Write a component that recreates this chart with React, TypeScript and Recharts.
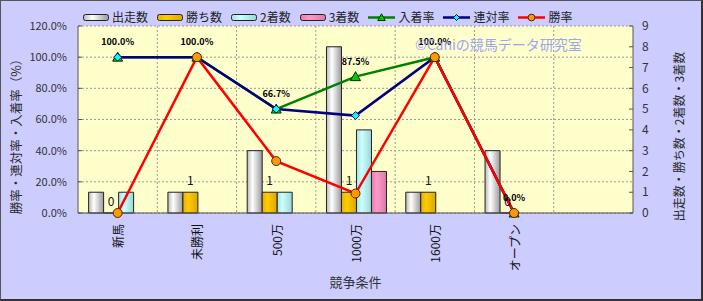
import React from "react";
import {
  Bar,
  CartesianGrid,
  ComposedChart,
  LabelList,
  Legend,
  Line,
  XAxis,
  YAxis,
} from "recharts";

const categories = ["新馬", "未勝利", "500万", "1000万", "1600万", "オープン", ""];
const starts = [1, 1, 3, 8, 1, 3, null];
const wins = [0, 1, 1, 1, 1, 0, null];
const seconds = [1, 0, 1, 4, 0, 0, null];
const thirds = [0, 0, 0, 2, 0, 0, null];
const placeRate = [100, 100, 66.7, 87.5, 100, 0, null];
const rentaiRate = [100, 100, 66.7, 62.5, 100, 0, null];
const winRate = [0, 100, 33.3, 12.5, 100, 0, null];
const leftTicks = [0, 20, 40, 60, 80, 100, 120];
const rightTicks = [0, 1, 2, 3, 4, 5, 6, 7, 8, 9];

const data = categories.map((name, i) => ({
  name,
  starts: starts[i],
  wins: wins[i],
  seconds: seconds[i],
  thirds: thirds[i],
  placeRate: placeRate[i],
  rentaiRate: rentaiRate[i],
  winRate: winRate[i],
}));

const FONT = '"Noto Sans CJK JP", "Noto Sans", sans-serif';

// 凡例の並び
const legendItems = [
  { label: "出走数", kind: "bar", fill: "url(#gStarts)" },
  { label: "勝ち数", kind: "bar", fill: "url(#gWins)" },
  { label: "2着数", kind: "bar", fill: "url(#gSeconds)" },
  { label: "3着数", kind: "bar", fill: "url(#gThirds)" },
  { label: "入着率", kind: "line", color: "#008000", marker: "triangle" },
  { label: "連対率", kind: "line", color: "#000080", marker: "diamond" },
  { label: "勝率", kind: "line", color: "#ff0000", marker: "circle" },
];

function marker(kind: string, cx: number, cy: number, small = false) {
  const s = small ? 0.75 : 1;
  if (kind === "triangle") {
    return (
      <polygon
        points={`${cx},${cy - 5 * s} ${cx - 5 * s},${cy + 4 * s} ${cx + 5 * s},${cy + 4 * s}`}
        fill="#00cc00"
        stroke="#003300"
        strokeWidth={1}
      />
    );
  }
  if (kind === "diamond") {
    return (
      <polygon
        points={`${cx},${cy - 4 * s} ${cx + 4 * s},${cy} ${cx},${cy + 4 * s} ${cx - 4 * s},${cy}`}
        fill="#00ffff"
        stroke="#000060"
        strokeWidth={1}
      />
    );
  }
  return <circle cx={cx} cy={cy} r={4.5 * s} fill="#ff9900" stroke="#552200" strokeWidth={1} />;
}

const dotOf = (kind: string) => (p: any) => {
  if (p.cx == null || p.cy == null || p.value == null) return <g key={p.index} />;
  return <g key={p.index}>{marker(kind, p.cx, p.cy)}</g>;
};

function LegendRow() {
  return (
    <div style={{ display: "flex", alignItems: "center", height: 14, fontFamily: FONT, fontSize: 12, color: "#222", whiteSpace: "nowrap" }}>
      {legendItems.map((it) => (
        <div key={it.label} style={{ display: "flex", alignItems: "center", marginRight: 9 }}>
          {it.kind === "bar" ? (
            <svg width={26} height={9} style={{ marginRight: 3 }}>
              <rect x={0.5} y={1.5} width={25} height={6} rx={2} fill={it.fill} stroke="#222" />
            </svg>
          ) : (
            <svg width={27} height={11} style={{ marginRight: 3 }}>
              <line x1={0} y1={5.5} x2={27} y2={5.5} stroke={it.color} strokeWidth={2.5} />
              {marker(it.marker as string, 13.5, 5.5, true)}
            </svg>
          )}
          <span style={{ lineHeight: "14px" }}>{it.label}</span>
        </div>
      ))}
    </div>
  );
}

const CategoryTick = (p: any) => {
  const { x, y, payload } = p;
  return (
    <text
      x={x}
      y={y}
      transform={`rotate(-90 ${x} ${y})`}
      textAnchor="end"
      dominantBaseline="central"
      fontSize={12}
      fill="#111"
    >
      {payload.value}
    </text>
  );
};

const verticalTitle = (text: string, dx: number, dy: number, size: number) => (p: any) => {
  const vb = p.viewBox;
  const x = vb.x + dx;
  const y = vb.y + vb.height / 2 + dy;
  return (
    <text
      x={x}
      y={y}
      transform={`rotate(-90 ${x} ${y})`}
      textAnchor="middle"
      dominantBaseline="central"
      fontSize={size}
      fill="#2a2a2a"
    >
      {text}
    </text>
  );
};

// 勝ち数ラベル：0 のときも表示する
const WinsLabel = (p: any) => {
  const vb = p.viewBox ?? p;
  if (p.value == null || vb == null || vb.x == null) return null;
  const x = vb.x + (vb.width ?? 0) / 2;
  const y = Math.min(vb.y, vb.y + (vb.height ?? 0)) - 7;
  return (
    <text x={x} y={y} textAnchor="middle" fontSize={12} fill="#111">
      {String(p.value)}
    </text>
  );
};

const gridX = ({ offset }: any) =>
  categories.slice(1).map((_, i) => offset.left + (offset.width * (i + 1)) / categories.length);

export default function App() {
  return (
    <div style={{ position: "absolute", left: 0, top: 0, width: 703, height: 301, background: "#ccccff", fontFamily: FONT }}>
      <ComposedChart
        width={703}
        height={301}
        data={data}
        margin={{ top: 26, right: 0, bottom: 28, left: 0 }}
        barCategoryGap="13.4%"
        barGap={0}
      >
        <defs>
          <linearGradient id="gStarts" x1="0" y1="0" x2="1" y2="0">
            <stop offset="0%" stopColor="#b8b8b8" />
            <stop offset="35%" stopColor="#ffffff" />
            <stop offset="100%" stopColor="#9a9a9a" />
          </linearGradient>
          <linearGradient id="gWins" x1="0" y1="0" x2="1" y2="0">
            <stop offset="0%" stopColor="#e6b000" />
            <stop offset="35%" stopColor="#ffcc00" />
            <stop offset="100%" stopColor="#d9a800" />
          </linearGradient>
          <linearGradient id="gSeconds" x1="0" y1="0" x2="1" y2="0">
            <stop offset="0%" stopColor="#a8e0e0" />
            <stop offset="35%" stopColor="#ccffff" />
            <stop offset="100%" stopColor="#99d6d6" />
          </linearGradient>
          <linearGradient id="gThirds" x1="0" y1="0" x2="1" y2="0">
            <stop offset="0%" stopColor="#e07aa8" />
            <stop offset="35%" stopColor="#ff99cc" />
            <stop offset="100%" stopColor="#d97aa6" />
          </linearGradient>
        </defs>
        <CartesianGrid
          yAxisId="left"
          fill="#ffffcc"
          stroke="#9a9a9a"
          strokeDasharray="2 2"
          verticalCoordinatesGenerator={gridX}
        />
        <XAxis
          dataKey="name"
          interval={0}
          height={60}
          tick={<CategoryTick />}
          tickLine={false}
          tickSize={6}
          tickMargin={5}
          axisLine={{ stroke: "#555" }}
          label={{ value: "競争条件", position: "bottom", offset: 5, fontSize: 13, fill: "#333" }}
        />
        <YAxis
          yAxisId="left"
          width={78}
          domain={[0, 120]}
          ticks={leftTicks}
          interval={0}
          tickFormatter={(v: number) => `${v.toFixed(1)}%`}
          tick={{ fill: "#333", fontSize: 11 }}
          tickSize={-4}
          tickMargin={15}
          tickLine={{ stroke: "#555" }}
          axisLine={{ stroke: "#555" }}
          label={{ content: verticalTitle("勝率・連対率・入着率（%）", 15, 14, 12.5) }}
        />
        <YAxis
          yAxisId="right"
          orientation="right"
          width={70}
          domain={[0, 9]}
          ticks={rightTicks}
          interval={0}
          tick={{ fill: "#333", fontSize: 12 }}
          tickSize={-4}
          tickMargin={13}
          tickLine={{ stroke: "#555" }}
          axisLine={{ stroke: "#555" }}
          label={{ content: verticalTitle("出走数・勝ち数・2着数・3着数", 45, 17, 12) }}
        />
        <Legend
          verticalAlign="middle"
          align="center"
          layout="horizontal"
          wrapperStyle={{ left: 83, top: 10, width: "auto", height: 14 }}
          content={() => <LegendRow />}
        />
        <Bar yAxisId="right" dataKey="starts" name="出走数" fill="url(#gStarts)" stroke="#222" isAnimationActive={false} />
        <Bar
          yAxisId="right"
          dataKey="wins"
          name="勝ち数"
          fill="url(#gWins)"
          stroke="#222"
          minPointSize={(v: any) => (v === 0 ? 0.01 : 0)}
          isAnimationActive={false}
        >
          <LabelList dataKey="wins" content={WinsLabel} />
        </Bar>
        <Bar yAxisId="right" dataKey="seconds" name="2着数" fill="url(#gSeconds)" stroke="#222" isAnimationActive={false} />
        <Bar yAxisId="right" dataKey="thirds" name="3着数" fill="url(#gThirds)" stroke="#222" isAnimationActive={false} />
        <Line
          yAxisId="left"
          type="linear"
          dataKey="placeRate"
          name="入着率"
          stroke="#008000"
          strokeWidth={2.5}
          dot={dotOf("triangle")}
          activeDot={false}
          isAnimationActive={false}
        >
          <LabelList
            dataKey="placeRate"
            position="top"
            offset={12}
            fontSize={9}
            fontWeight="bold"
            fill="#000"
            formatter={(v: any) => (v == null ? "" : `${Number(v).toFixed(1)}%`)}
          />
        </Line>
        <Line
          yAxisId="left"
          type="linear"
          dataKey="rentaiRate"
          name="連対率"
          stroke="#000080"
          strokeWidth={2.5}
          dot={dotOf("diamond")}
          activeDot={false}
          isAnimationActive={false}
        />
        <Line
          yAxisId="left"
          type="linear"
          dataKey="winRate"
          name="勝率"
          stroke="#ff0000"
          strokeWidth={2.5}
          dot={dotOf("circle")}
          activeDot={false}
          isAnimationActive={false}
        />
      </ComposedChart>
      <div
        style={{
          position: "absolute",
          left: 415,
          top: 35,
          fontSize: 14,
          lineHeight: "18px",
          color: "#9ea4f4",
          whiteSpace: "nowrap",
          pointerEvents: "none",
        }}
      >
        ©Caniの競馬データ研究室
      </div>
      <div
        style={{
          position: "absolute",
          inset: 0,
          borderTop: "1px solid #555",
          borderLeft: "1px solid #555",
          borderRight: "2px solid #333",
          borderBottom: "2px solid #333",
          pointerEvents: "none",
        }}
      />
    </div>
  );
}
